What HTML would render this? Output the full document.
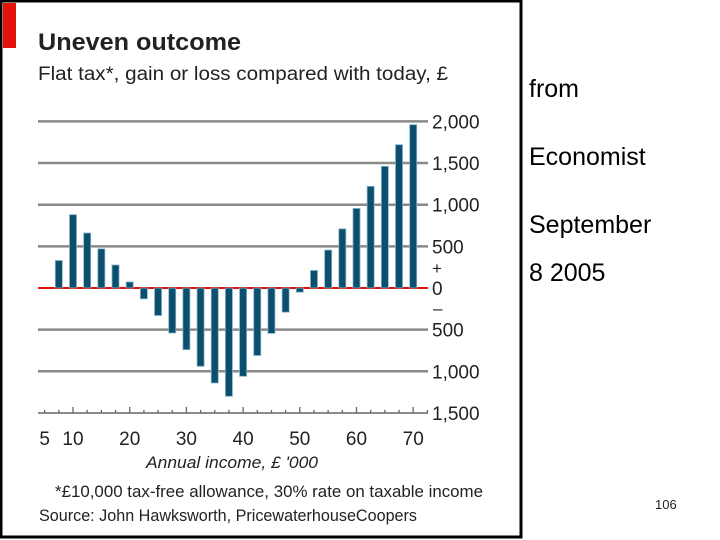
<!DOCTYPE html>
<html><head><meta charset="utf-8"><style>
html,body{margin:0;padding:0;background:#fff;}
svg{display:block;}
text{font-family:"Liberation Sans Narrow","Liberation Sans",sans-serif;fill:#222;}
.side{font-family:"Liberation Sans",sans-serif;font-size:25px;fill:#000;}
</style></head><body>
<svg id="chart" width="720" height="540" viewBox="0 0 720 540">
<rect x="1" y="1" width="520" height="536" fill="#fff" stroke="#000" stroke-width="3"/>
<rect x="3" y="3" width="13" height="45" fill="#e3120b"/>
<text x="38" y="50" font-size="24" font-weight="bold" textLength="203" lengthAdjust="spacingAndGlyphs">Uneven outcome</text>
<text x="38" y="80" font-size="19" textLength="410" lengthAdjust="spacingAndGlyphs">Flat tax*, gain or loss compared with today, £</text>
<g id="grid"></g>
<g id="bars"></g>
<g id="xaxis"></g>
<text x="232" y="468" font-size="17" font-style="italic" text-anchor="middle" textLength="172" lengthAdjust="spacingAndGlyphs">Annual income, £ '000</text>
<text x="55" y="497" font-size="17" textLength="428" lengthAdjust="spacingAndGlyphs">*£10,000 tax-free allowance, 30% rate on taxable income</text>
<text x="39" y="521" font-size="17" textLength="378" lengthAdjust="spacingAndGlyphs">Source: John Hawksworth, PricewaterhouseCoopers</text>
<text class="side" x="529" y="97">from</text>
<text class="side" x="529" y="165">Economist</text>
<text class="side" x="529" y="233">September</text>
<text class="side" x="529" y="281">8 2005</text>
<text x="655" y="509" font-size="13" style="font-family:'Liberation Sans',sans-serif" fill="#000">106</text>
</svg>
<script>
const incomes=[7.5,10,12.5,15,17.5,20,22.5,25,27.5,30,32.5,35,37.5,40,42.5,45,47.5,50,52.5,55,57.5,60,62.5,65,67.5,70];
const values=[330,880,660,470,276,72,-130,-330,-540,-740,-940,-1140,-1300,-1060,-810,-545,-290,-50,210,455,710,955,1220,1460,1720,1960];
const yTicks=[2000,1500,1000,500,0,-500,-1000,-1500];
const yTickLabels=["2,000","1,500","1,000","500","0","500","1,000","1,500"];
const xTickLabels=[5,10,20,30,40,50,60,70];
const NS="http://www.w3.org/2000/svg";
const xs=v=>73+(v-10)*5.67;
const ys=v=>288-v*0.0833;
function mk(tag,attrs,parent){const e=document.createElementNS(NS,tag);for(const k in attrs)e.setAttribute(k,attrs[k]);parent.appendChild(e);return e;}
const grid=document.getElementById('grid'),bars=document.getElementById('bars'),xa=document.getElementById('xaxis');
yTicks.forEach((t,i)=>{
  const y=ys(t);
  if(t!==0&&t!==-1500){const l=mk('line',{x1:38,x2:428,y1:y,y2:y,stroke:'#8a8a8a','stroke-width':2.5},grid);
  
  }
  const tx=mk('text',{x:432,y:y+7,'font-size':19},grid);tx.textContent=yTickLabels[i];
  
  
});
const plus=mk('text',{x:432,y:ys(0)-14,'font-size':17},grid);plus.textContent='+';


const minus=mk('text',{x:433,y:ys(0)+26,'font-size':17},grid);minus.textContent='–';


incomes.forEach((inc,i)=>{
  const v=values[i],x=xs(inc),y0=ys(0),y1=ys(v);
  const r=mk('rect',{x:x-3.5,y:Math.min(y0,y1),width:7,height:Math.abs(y1-y0),fill:'#0b4f6c',stroke:'#7fb0c6','stroke-width':0.8},bars);
  
  
});
const zl=mk('line',{x1:38,x2:428,y1:ys(0),y2:ys(0),stroke:'#e3120b','stroke-width':2},grid);


const axY=ys(-1500);
const al=mk('line',{x1:38,x2:428,y1:axY,y2:axY,stroke:'#666','stroke-width':1.5},xa);


for(let v=5;v<=72.5;v+=2.5){
  const major=v%10===0;
  const t=mk('line',{x1:xs(v),x2:xs(v),y1:axY,y2:axY-(major?6:3),stroke:'#666','stroke-width':1.3},xa);
  
  
}
xTickLabels.forEach(v=>{
  const t=mk('text',{x:xs(v),y:445,'font-size':19,'text-anchor':'middle'},xa);t.textContent=v;
  
  
});
</script>
</body></html>
